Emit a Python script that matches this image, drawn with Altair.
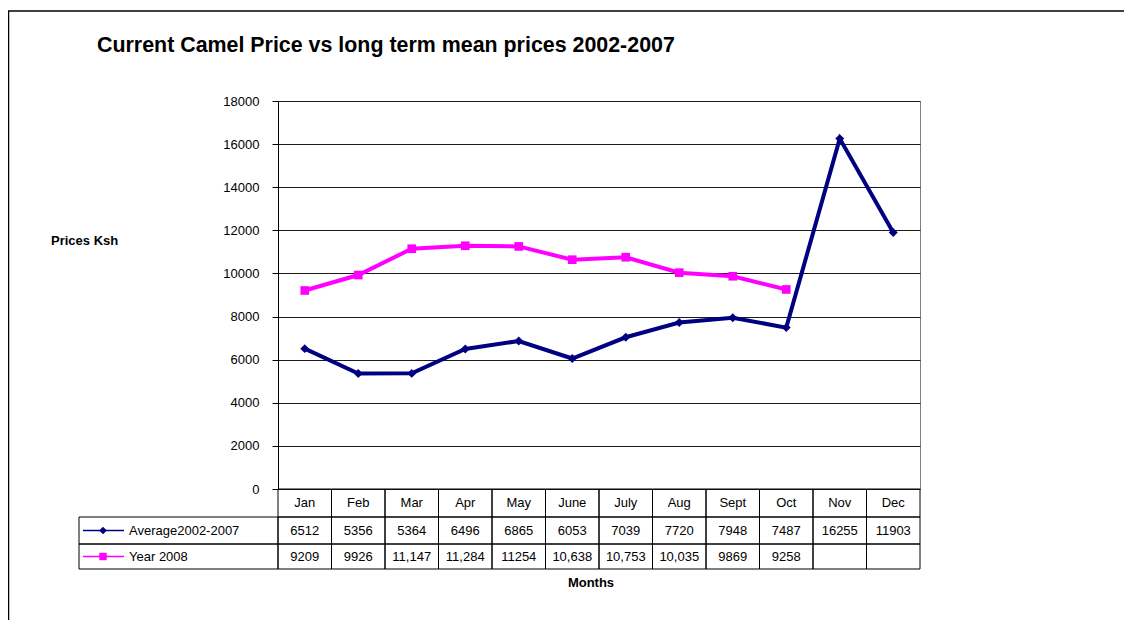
import altair as alt
import pandas as pd

# ---------------- data ----------------
months = ["Jan", "Feb", "Mar", "Apr", "May", "June", "July", "Aug", "Sept", "Oct", "Nov", "Dec"]
avg_values = [6512, 5356, 5364, 6496, 6865, 6053, 7039, 7720, 7948, 7487, 16255, 11903]
y2008_values = [9209, 9926, 11147, 11284, 11254, 10638, 10753, 10035, 9869, 9258, None, None]
avg_labels = ["6512", "5356", "5364", "6496", "6865", "6053", "7039", "7720", "7948", "7487", "16255", "11903"]
y2008_labels = ["9209", "9926", "11,147", "11,284", "11254", "10,638", "10,753", "10,035", "9869", "9258", "", ""]
series_names = ["Average2002-2007", "Year 2008"]
y_ticks = [0, 2000, 4000, 6000, 8000, 10000, 12000, 14000, 16000, 18000]
chart_title = "Current Camel Price vs long term mean prices 2002-2007"
y_title = "Prices Ksh"
x_title = "Months"

NAVY = "#000080"
MAGENTA = "#FF00FF"
FONT = "Liberation Sans"

W, H = 642, 388
ROW0 = (388, 416)   # header row (month names)
ROW1 = (416, 443)   # average row
ROW2 = (443, 468)   # 2008 row

avg_df = pd.DataFrame({"Month": months, "Value": avg_values})
y08_df = pd.DataFrame({"Month": months, "Value": y2008_values}).dropna()
table_df = pd.DataFrame({"Month": months, "avg": avg_labels, "y08": y2008_labels})

x_scale = alt.Scale(type="band", domain=months, paddingInner=0, paddingOuter=0)
y_scale = alt.Scale(domain=[0, 18000], nice=False, zero=True)

x_pt = alt.X("Month:N", sort=months, scale=x_scale, axis=None, bandPosition=0.5)
x_band = alt.X("Month:N", sort=months, scale=x_scale, axis=None)

y_axis = alt.Axis(
    values=y_ticks, format="d", title=None, grid=True, gridColor="#1a1a1a", gridWidth=1,
    domainColor="#000000", domainWidth=1, tickColor="#000000", tickSize=6,
    labelPadding=13, labelFontSize=13, labelColor="#000000", labelFont=FONT,
)

line_avg = alt.Chart(avg_df).mark_line(
    color=NAVY, strokeWidth=4,
    point=alt.OverlayMarkDef(shape="diamond", size=80, filled=True, color=NAVY, opacity=1),
).encode(x=x_pt, y=alt.Y("Value:Q", scale=y_scale, axis=y_axis))

line_08 = alt.Chart(y08_df).mark_line(
    color=MAGENTA, strokeWidth=4,
    point=alt.OverlayMarkDef(shape="square", size=75, filled=True, color=MAGENTA, opacity=1),
).encode(x=x_pt, y=alt.Y("Value:Q", scale=y_scale, axis=y_axis))

# ---------------- data table ----------------
def cell_row(r):
    return alt.Chart(table_df).mark_rect(fillOpacity=0, stroke="#000000", strokeWidth=1).encode(
        x=x_band, y=alt.value(r[0]), y2=alt.value(r[1])
    )

def text_row(field, r):
    return alt.Chart(table_df).mark_text(
        align="center", baseline="middle", fontSize=13, font=FONT, color="#000000"
    ).encode(x=x_pt, y=alt.value((r[0] + r[1]) / 2), text=f"{field}:N")

legend_layers = []
for name, color, shape, r in [(series_names[0], NAVY, "diamond", ROW1),
                              (series_names[1], MAGENTA, "square", ROW2)]:
    d = pd.DataFrame({"s": [name]})
    yc = (r[0] + r[1]) / 2
    legend_layers += [
        alt.Chart(d).mark_rect(fillOpacity=0, stroke="#000000", strokeWidth=1).encode(
            x=alt.value(-199), x2=alt.value(0), y=alt.value(r[0]), y2=alt.value(r[1])),
        alt.Chart(d).mark_rule(color=color, strokeWidth=1.5).encode(
            x=alt.value(-195), x2=alt.value(-154), y=alt.value(yc)),
        alt.Chart(d).mark_point(shape=shape, filled=True, size=60 if shape == "diamond" else 55,
                                color=color, opacity=1).encode(
            x=alt.value(-175), y=alt.value(yc)),
        alt.Chart(d).mark_text(align="left", baseline="middle", fontSize=13, font=FONT,
                               color="#000000").encode(
            x=alt.value(-149), y=alt.value(yc), text="s:N"),
    ]

# ---------------- titles & frame ----------------
title_layer = alt.Chart(pd.DataFrame({"t": [chart_title]})).mark_text(
    align="left", baseline="alphabetic", fontSize=21.4, fontWeight="bold", font=FONT, color="#000000"
).encode(x=alt.value(-181), y=alt.value(-49), text="t:N")

ytitle_layer = alt.Chart(pd.DataFrame({"t": [y_title]})).mark_text(
    align="left", baseline="middle", fontSize=13, fontWeight="bold", font=FONT, color="#000000"
).encode(x=alt.value(-227), y=alt.value(140), text="t:N")

xtitle_layer = alt.Chart(pd.DataFrame({"t": [x_title]})).mark_text(
    align="center", baseline="middle", fontSize=13, fontWeight="bold", font=FONT, color="#000000"
).encode(x=alt.value(313), y=alt.value(482), text="t:N")

frame_d = pd.DataFrame({"f": [0]})
frame_top = alt.Chart(frame_d).mark_rule(color="#000000", strokeWidth=1.5).encode(
    x=alt.value(-270), x2=alt.value(900), y=alt.value(-90))
frame_left = alt.Chart(frame_d).mark_rule(color="#000000", strokeWidth=1.5).encode(
    x=alt.value(-269.5), y=alt.value(-90), y2=alt.value(640))

chart = alt.layer(
    frame_top, frame_left,
    cell_row(ROW0), cell_row(ROW1), cell_row(ROW2),
    text_row("Month", ROW0), text_row("avg", ROW1), text_row("y08", ROW2),
    *legend_layers,
    line_08, line_avg,
    title_layer, ytitle_layer, xtitle_layer,
).properties(
    width=W, height=H,
    autosize=alt.AutoSizeParams(type="none"),
    padding={"left": 270, "top": 93, "right": 204, "bottom": 131},
).configure(
    font=FONT,
).configure_view(
    stroke="#808080", strokeWidth=1,
)

chart.save("out.html", embed_options={"renderer": "svg", "actions": False})
